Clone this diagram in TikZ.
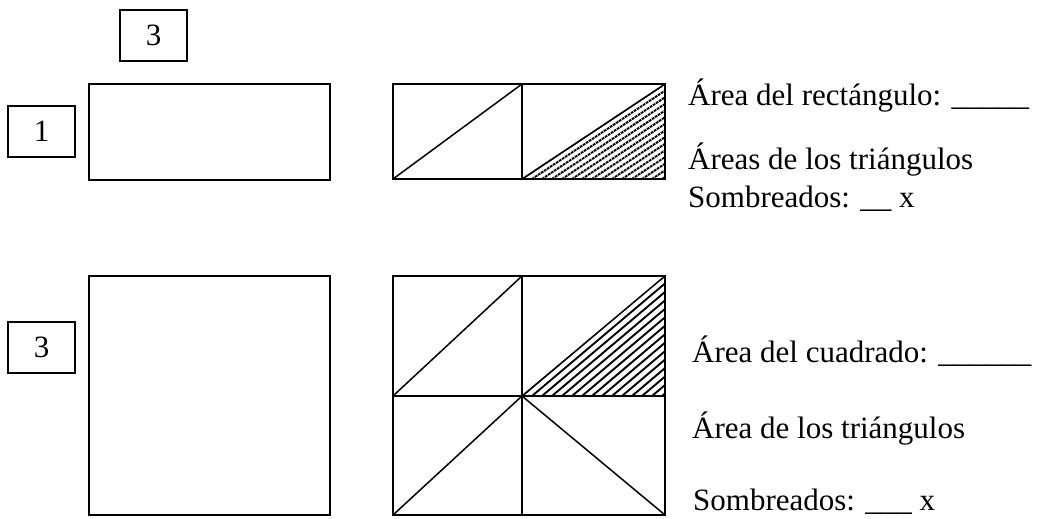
\documentclass[tikz,border=0pt]{standalone}
\usepackage{fontspec}
\setmainfont{Liberation Serif}
\tikzset{
  numbox/.style={draw, line width=1.6bp, minimum width=67bp, minimum height=51bp, inner sep=0pt, font=\fontsize{31bp}{37bp}\selectfont},
  outline/.style={draw, line width=1.7bp},
  innerline/.style={line width=1.5bp},
  hatchline/.style={line width=1.9bp, dash pattern=on 2.2bp off 1.4bp},
  txt/.style={anchor=base west, inner sep=0pt, font=\fontsize{31bp}{37bp}\selectfont}
}
\begin{document}
\begin{tikzpicture}[x=1bp,y=-1bp]
\useasboundingbox (0,0) rectangle (1041,519);
% number boxes
\node[numbox] (n3top) at (153.5,35.5) {3};
\node[numbox] (n1) at (41.5,131.5) {1};
\node[numbox] (n3left) at (41.5,347.5) {3};
% plain shapes
\draw[outline] (89,84) rectangle (330,180);
\draw[outline] (89,276) rectangle (330,515);
% top divided rectangle
\begin{scope}
\clip (522,179) -- (665,179) -- (665,84) -- cycle;
\foreach \i in {-20,...,20}
  \draw[hatchline] (522+\i*10,179) -- ++(143*2,-95*2) -- ++(-143*4,95*4);
\end{scope}
\draw[innerline] (393,179) -- (522,84);
\draw[innerline] (522,179) -- (665,84);
\draw[innerline] (522,84) -- (522,179);
\draw[outline] (393,84) rectangle (665,179);
% bottom divided square
\begin{scope}
\clip (522,396) -- (665,396) -- (665,276) -- cycle;
\foreach \i in {-20,...,20}
  \draw[hatchline] (522+\i*10,396) -- ++(143*2,-121*2) -- ++(-143*4,121*4);
\end{scope}
\draw[innerline] (522,276) -- (522,515);
\draw[innerline] (393,396) -- (665,396);
\draw[innerline] (393,396) -- (522,276);
\draw[innerline] (522,396) -- (665,276);
\draw[innerline] (393,515) -- (522,396);
\draw[innerline] (522,396) -- (665,515);
\draw[outline] (393,276) rectangle (665,515);
% texts
\node[txt] (t1) at (688,106) {Área del rectángulo: \_\_\_\_\_};
\node[txt] (t2) at (688,170) {Áreas de los triángulos};
\node[txt] (t3) at (688,208) {Sombreados: \_\_ x};
\node[txt] (t4) at (692,363) {Área del cuadrado: \_\_\_\_\_\_};
\node[txt] (t5) at (692,438) {Área de los triángulos};
\node[txt] (t6) at (693,510) {Sombreados: \_\_\_ x};
\end{tikzpicture}
\end{document}
